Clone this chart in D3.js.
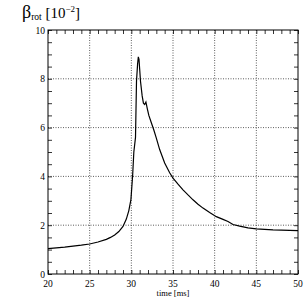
<!DOCTYPE html>
<html>
<head>
<meta charset="utf-8">
<script src="https://cdn.jsdelivr.net/npm/d3@7"></script>
<style>
  body { margin: 0; background: #fff; }
  text { font-family: "Liberation Serif", "DejaVu Serif", serif; }
</style>
</head>
<body>
<svg id="chart" width="305" height="305"></svg>
<script>
// time [ms] and rotational beta [10^-2]
const time = [20, 21, 22, 23, 24, 25, 26, 27, 27.5, 28, 28.5, 29, 29.4, 29.7, 29.95,
  30.15, 30.3, 30.5, 30.62, 30.75, 30.84, 30.92, 31.0, 31.1, 31.3, 31.45, 31.6, 31.75,
  31.9, 32.1, 32.4, 32.7, 33.0, 33.4, 34.0, 34.6, 35.0, 35.6, 36.2, 36.8, 37.4, 38.0,
  38.6, 39.4, 40.2, 41.0, 41.6, 42.2, 43.0, 44.0, 45.0, 46.0, 47.0, 48.0, 49.0, 50.0];
const beta = [1.04, 1.07, 1.10, 1.14, 1.18, 1.23, 1.31, 1.42, 1.50, 1.60, 1.74, 1.95, 2.25, 2.6, 3.05,
  4.0, 5.0, 5.6, 7.9, 8.6, 8.9, 8.8, 8.4, 7.9, 7.3, 7.0, 6.95, 7.05,
  6.8, 6.5, 6.2, 5.9, 5.57, 5.1, 4.55, 4.15, 3.93, 3.68, 3.45, 3.24, 3.04, 2.86,
  2.7, 2.52, 2.35, 2.24, 2.15, 2.03, 1.96, 1.89, 1.85, 1.83, 1.81, 1.80, 1.79, 1.78];

const xTicks = [20, 25, 30, 35, 40, 45, 50];
const yTicks = [0, 2, 4, 6, 8, 10];

const svg = d3.select("#chart");
const mLeft = 48, mRight = 298, mTop = 30, mBottom = 274;

let x = d3.scaleLinear().domain([20, 50]).range([mLeft, mRight]);
let y = d3.scaleLinear().domain([0, 10]).range([mBottom, mTop]);

// grid lines at the labelled ticks
const grid = svg.append("g")
  .attr("stroke", "#333").attr("stroke-width", 0.8).attr("stroke-dasharray", "1,1.5");
grid.selectAll(".gx").data(xTicks.slice(1, -1)).join("line")
  .attr("x1", d => x(d)).attr("x2", d => x(d)).attr("y1", mTop).attr("y2", mBottom);
grid.selectAll(".gy").data(yTicks.slice(1, -1)).join("line")
  .attr("y1", d => y(d)).attr("y2", d => y(d)).attr("x1", mLeft).attr("x2", mRight);

// inside ticks on all four sides
const tickLen = 4;
svg.append("g").attr("transform", `translate(0,${mBottom})`)
  .call(d3.axisBottom(x).ticks(30).tickSize(-tickLen).tickFormat(""));
svg.append("g").attr("transform", `translate(0,${mTop})`)
  .call(d3.axisTop(x).ticks(30).tickSize(-tickLen).tickFormat(""));
svg.append("g").attr("transform", `translate(${mLeft},0)`)
  .call(d3.axisLeft(y).ticks(20).tickSize(-tickLen).tickFormat(""));
svg.append("g").attr("transform", `translate(${mRight},0)`)
  .call(d3.axisRight(y).ticks(20).tickSize(-tickLen).tickFormat(""));
svg.selectAll(".domain").remove();
svg.selectAll(".tick line").attr("stroke", "#000").attr("stroke-width", 0.8);

// frame
svg.append("rect")
  .attr("x", mLeft).attr("y", mTop).attr("width", mRight - mLeft).attr("height", mBottom - mTop)
  .attr("fill", "none").attr("stroke", "#000").attr("stroke-width", 1);

// tick labels
svg.selectAll(".xl").data(xTicks).join("text")
  .attr("x", d => x(d)).attr("y", mBottom + 13)
  .attr("text-anchor", "middle").attr("font-size", 9.5).text(d => d);
svg.selectAll(".yl").data(yTicks).join("text")
  .attr("x", mLeft - 3).attr("y", d => y(d) + 3.5)
  .attr("text-anchor", "end").attr("font-size", 9.5).text(d => d);

svg.append("text").attr("x", (mLeft + mRight) / 2).attr("y", mBottom + 22)
  .attr("text-anchor", "middle").attr("font-size", 8.5).text("time [ms]");

// y axis title
const title = svg.append("text").attr("x", 22).attr("y", 18).attr("font-size", 15);
title.append("tspan").attr("font-size", 18).text("β");
title.append("tspan").attr("font-size", 9.5).attr("dy", 2).text("rot");
title.append("tspan").attr("dy", -2).text(" [10");
title.append("tspan").attr("font-size", 9).attr("dy", -6).text("−2");
title.append("tspan").attr("dy", 6).text("]");

// curve
let line = d3.line().x((d, i) => x(time[i])).y(d => y(d));
svg.append("path").datum(beta)
  .attr("d", line)
  .attr("fill", "none").attr("stroke", "#000").attr("stroke-width", 1.2);
</script>
</body>
</html>
